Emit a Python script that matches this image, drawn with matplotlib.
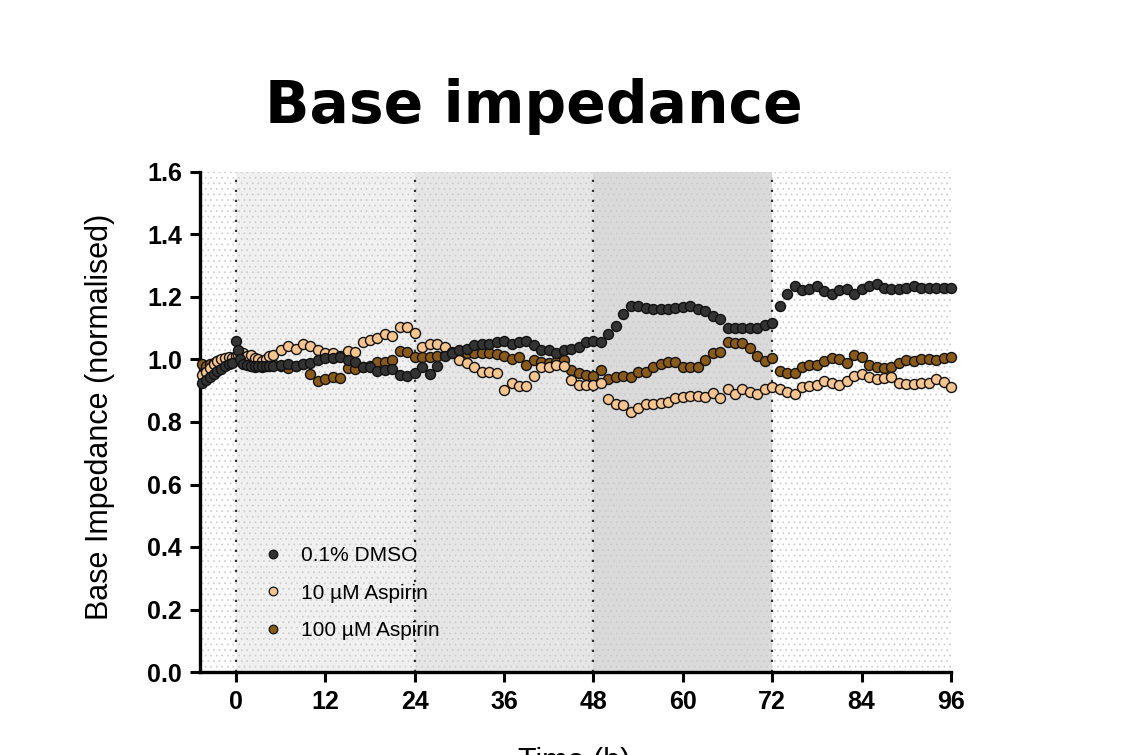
import numpy as np
import matplotlib
matplotlib.use('Agg')
import matplotlib.pyplot as plt
from matplotlib.lines import Line2D

# Time points (h): dense sampling around the start, hourly afterwards
t_early = [-4.5, -4.0, -3.5, -3.0, -2.5, -2.0, -1.5, -1.0, -0.5,
           0.0, 0.25, 0.5, 1.0, 1.5, 2.0, 2.5, 3.0, 3.5, 4.0, 4.5]
t_hourly = list(range(5, 97))

# 0.1% DMSO
dmso_early = [0.925, 0.935, 0.945, 0.955, 0.962, 0.970, 0.978, 0.985, 0.990,
              1.060, 1.030, 1.000, 0.985, 0.982, 0.980, 0.980, 0.980, 0.978, 0.978, 0.980]
dmso_hourly = [0.980, 0.982, 0.985, 0.980, 0.985, 0.988, 0.998, 1.004, 1.004, 1.009,
               0.998, 0.993, 0.977, 0.975, 0.962, 0.966, 0.970, 0.950, 0.947, 0.958,
               0.975, 0.955, 0.980, 1.010, 1.020, 1.030, 1.035, 1.045, 1.050, 1.050,
               1.055, 1.060, 1.050, 1.055, 1.060, 1.045, 1.030, 1.030, 1.020, 1.030,
               1.035, 1.040, 1.055, 1.060, 1.055, 1.080, 1.107, 1.145, 1.171, 1.172,
               1.165, 1.163, 1.163, 1.163, 1.165, 1.168, 1.170, 1.160, 1.155, 1.139,
               1.130, 1.102, 1.100, 1.100, 1.102, 1.102, 1.110, 1.118, 1.172, 1.210,
               1.235, 1.222, 1.224, 1.235, 1.218, 1.209, 1.222, 1.225, 1.210, 1.225,
               1.236, 1.240, 1.228, 1.227, 1.227, 1.230, 1.235, 1.230, 1.230, 1.229,
               1.229, 1.229]

# 10 uM Aspirin
asp10_early = [0.950, 0.960, 0.972, 0.985, 0.995, 1.000, 1.005, 1.008, 1.005,
               1.010, 1.015, 1.020, 1.020, 1.010, 1.015, 1.005, 1.000, 0.995, 1.000, 1.010]
asp10_hourly = [1.014, 1.030, 1.043, 1.033, 1.049, 1.043, 1.030, 1.022, 1.020, 1.010,
                1.027, 1.025, 1.057, 1.062, 1.068, 1.080, 1.074, 1.103, 1.103, 1.084,
                1.039, 1.050, 1.050, 1.039, 1.025, 0.998, 0.988, 0.975, 0.961, 0.961,
                0.956, 0.902, 0.926, 0.915, 0.915, 0.947, 0.977, 0.975, 0.982, 0.979,
                0.934, 0.918, 0.918, 0.918, 0.924, 0.873, 0.858, 0.855, 0.833, 0.844,
                0.858, 0.858, 0.860, 0.865, 0.876, 0.881, 0.883, 0.883, 0.881, 0.892,
                0.876, 0.905, 0.890, 0.905, 0.897, 0.890, 0.905, 0.911, 0.904, 0.897,
                0.890, 0.913, 0.915, 0.918, 0.932, 0.925, 0.918, 0.932, 0.947, 0.954,
                0.945, 0.936, 0.940, 0.943, 0.926, 0.922, 0.922, 0.925, 0.925, 0.936,
                0.929, 0.913]

# 100 uM Aspirin
asp100_early = [0.985, 0.980, 0.985, 0.990, 0.995, 0.995, 1.000, 0.998, 0.995,
                1.000, 1.005, 0.995, 0.990, 0.985, 0.980, 0.975, 0.985, 0.975, 0.980, 0.985]
asp100_hourly = [0.985, 0.980, 0.972, 0.980, 0.985, 0.953, 0.930, 0.939, 0.944, 0.940,
                 0.972, 0.970, 0.975, 0.980, 0.993, 0.993, 0.998, 1.028, 1.025, 1.009,
                 1.009, 1.009, 1.011, 1.014, 1.020, 1.022, 1.020, 1.020, 1.020, 1.020,
                 1.016, 1.011, 1.000, 1.009, 0.982, 0.998, 0.993, 0.988, 0.993, 0.998,
                 0.966, 0.956, 0.950, 0.947, 0.966, 0.937, 0.943, 0.947, 0.943, 0.959,
                 0.961, 0.975, 0.986, 0.993, 0.993, 0.977, 0.975, 0.977, 0.998, 1.022,
                 1.025, 1.057, 1.054, 1.054, 1.038, 1.011, 0.996, 1.006, 0.964, 0.956,
                 0.956, 0.975, 0.982, 0.982, 0.996, 1.004, 1.000, 0.989, 1.014, 1.009,
                 0.982, 0.975, 0.972, 0.977, 0.989, 0.998, 0.996, 1.000, 1.000, 0.998,
                 1.006, 1.009]

labels = ['0.1% DMSO', '10 µM Aspirin', '100 µM Aspirin']
colors = ['#333333', '#f6c48f', '#8a5a1b']
x_ticks = [0, 12, 24, 36, 48, 60, 72, 84, 96]
y_ticks = [0.0, 0.2, 0.4, 0.6, 0.8, 1.0, 1.2, 1.4, 1.6]
phase_edges = [0, 24, 48, 72]
phase_shades = ['#f0f0f0', '#e6e6e6', '#dadada']

time = np.array(t_early + t_hourly)
series = [np.array(dmso_early + dmso_hourly),
          np.array(asp10_early + asp10_hourly),
          np.array(asp100_early + asp100_hourly)]

plt.rcParams['font.family'] = ['Liberation Sans', 'DejaVu Sans']
plt.rcParams['hatch.linewidth'] = 0.5

fig = plt.figure(figsize=(11.45, 7.55), dpi=100)
ax = fig.add_axes([200 / 1145, 1 - 672 / 755, 751 / 1145, 500 / 755])

x_min = -4.83
ax.set_xlim(x_min, 96)
ax.set_ylim(0, 1.6)

# shaded treatment phases + faint dotted background
for i in range(3):
    ax.axvspan(phase_edges[i], phase_edges[i + 1], color=phase_shades[i], lw=0, zorder=0)
ax.axvspan(x_min, 96, facecolor='none', edgecolor='#cbcbcb', hatch='...', lw=0, zorder=0.5)
for e in phase_edges:
    ax.axvline(e, color='#333333', lw=1.6, ls=(0, (1, 3.5)), zorder=1)

# draw 100 uM first so DMSO sits on top
for k in [2, 1, 0]:
    ax.plot(time, series[k], 'o', ms=7.2, mfc=colors[k], mec='#111111', mew=1.0,
            clip_on=False, zorder=3 + (2 - k))

for s in ['top', 'right']:
    ax.spines[s].set_visible(False)
for s in ['left', 'bottom']:
    ax.spines[s].set_linewidth(2.4)

ax.set_xticks(x_ticks)
ax.set_yticks(y_ticks)
ax.set_yticklabels(['%.1f' % v for v in y_ticks])
ax.tick_params(axis='both', direction='out', length=7, width=2.2, labelsize=18, pad=6)
for lbl in ax.get_xticklabels() + ax.get_yticklabels():
    lbl.set_fontweight('bold')

handles = [Line2D([], [], ls='none', marker='o', ms=6.2, mfc=colors[k], mec='#111111', mew=0.9)
           for k in range(3)]
ax.legend(handles, labels, loc='upper left', bbox_to_anchor=(0.072, 0.268), frameon=False,
          fontsize=15, handletextpad=0.85, labelspacing=0.88, handlelength=1.0, borderaxespad=0)

fig.text(100 / 1145, 1 - 417 / 755, 'Base Impedance (normalised)', rotation=90,
         ha='center', va='center', fontsize=22)
fig.text(574 / 1145, 1 - 770 / 755, 'Time (h)', ha='center', va='baseline', fontsize=22)
fig.text(534 / 1145, 1 - 123 / 755, 'Base impedance', ha='center', va='baseline',
         fontsize=42, fontweight='bold', family=['DejaVu Sans'])

fig.savefig('out.png', dpi=100)
